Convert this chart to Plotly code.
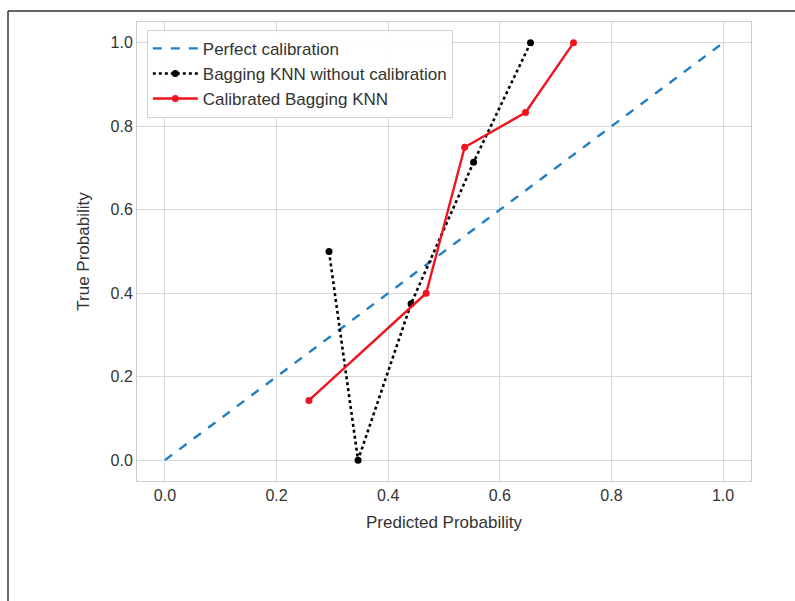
import plotly.graph_objects as go

perfect_x = [0.0, 1.0]
perfect_y = [0.0, 1.0]

uncal_x = [0.294, 0.346, 0.441, 0.553, 0.655]
uncal_y = [0.5, 0.0, 0.375, 0.714, 1.0]

cal_x = [0.258, 0.468, 0.537, 0.646, 0.732]
cal_y = [0.143, 0.4, 0.75, 0.833, 1.0]

x_ticks = [0.0, 0.2, 0.4, 0.6, 0.8, 1.0]
y_ticks = [0.0, 0.2, 0.4, 0.6, 0.8, 1.0]

FONT = "Liberation Sans, Arial, sans-serif"
TXT = "#333333"

fig = go.Figure()
fig.add_trace(go.Scatter(x=perfect_x, y=perfect_y, mode="lines", name="Perfect calibration",
                         line=dict(color="#1f7ec4", width=2.4, dash="dash")))
fig.add_trace(go.Scatter(x=uncal_x, y=uncal_y, mode="lines+markers", name="Bagging KNN without calibration",
                         line=dict(color="black", width=2.6, dash="dot"),
                         marker=dict(color="black", size=7)))
fig.add_trace(go.Scatter(x=cal_x, y=cal_y, mode="lines+markers", name="Calibrated Bagging KNN",
                         line=dict(color="#f0141e", width=2.4),
                         marker=dict(color="#f0141e", size=7)))

axis_common = dict(showgrid=True, gridcolor="#d9d9d9", gridwidth=1, zeroline=False,
                   showline=True, linecolor="#cccccc", linewidth=1, mirror=True,
                   tickfont=dict(size=16, color=TXT, family=FONT), ticks="",
                   tickformat=".1f")

fig.update_xaxes(range=[-0.05, 1.05], tickvals=x_ticks,
                 title=dict(text="Predicted Probability", font=dict(size=17, color=TXT, family=FONT), standoff=12),
                 **axis_common)
fig.update_yaxes(range=[-0.05, 1.05], tickvals=y_ticks,
                 title=dict(text="True Probability", font=dict(size=17, color=TXT, family=FONT), standoff=16),
                 **axis_common)

fig.update_layout(
    width=795, height=601,
    margin=dict(l=137, r=44, t=22, b=120),
    paper_bgcolor="white", plot_bgcolor="white",
    font=dict(family=FONT, size=16, color=TXT),
    legend=dict(x=0.016, y=0.983, xanchor="left", yanchor="top", itemwidth=45,
                bgcolor="rgba(255,255,255,0.9)", bordercolor="#d0d0d0", borderwidth=1,
                font=dict(size=17, color=TXT, family=FONT)),
    shapes=[
        dict(type="line", xref="paper", yref="paper", x0=(8-137)/614, x1=(795-137)/614,
             y0=1 + (22-11)/459, y1=1 + (22-11)/459, line=dict(color="#333333", width=1.5)),
        dict(type="line", xref="paper", yref="paper", x0=(8-137)/614, x1=(8-137)/614,
             y0=1 + (22-11)/459, y1=-(601-481)/459 - 0.01, line=dict(color="#333333", width=1.5)),
    ],
)

fig.write_html("out.html")
